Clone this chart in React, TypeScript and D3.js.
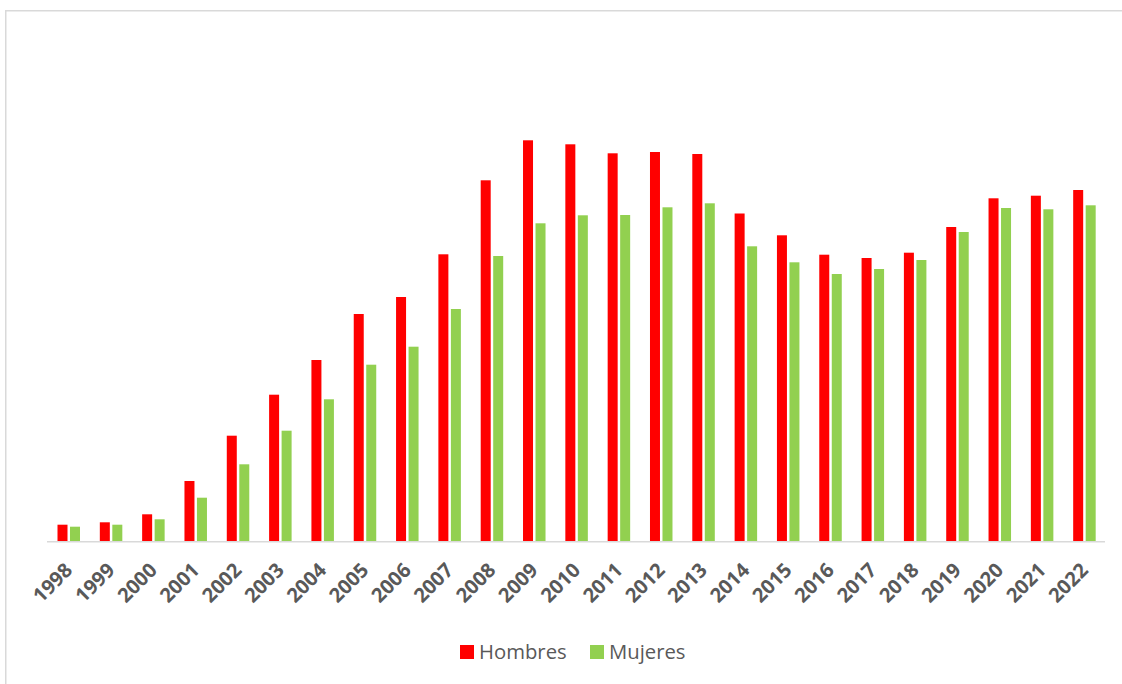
import React from "react";
import * as d3 from "d3";

const years = ["1998","1999","2000","2001","2002","2003","2004","2005","2006","2007","2008","2009","2010","2011","2012","2013","2014","2015","2016","2017","2018","2019","2020","2021","2022"];
const hombres = [16.3, 18.7, 26.7, 60, 105.3, 146.3, 181, 227, 244, 286.7, 360.7, 400.7, 396.7, 387.7, 389, 387, 327.5, 305.7, 286.3, 283, 288.3, 314, 342.7, 345.3, 351];
const mujeres = [14.3, 16.3, 21.7, 43.3, 76.7, 110.3, 141.7, 176.3, 194.3, 232, 285, 317.7, 325.7, 326, 333.7, 337.7, 294.7, 278.7, 267, 272, 281, 309, 333, 331.7, 335.7];
const seriesNames = ["Hombres", "Mujeres"];
const seriesColors = ["#FF0000", "#92D050"];

export default function App() {
  const W = 1122, H = 684;
  const x = d3.scaleBand<string>().domain(years).range([47, 1105]).paddingInner(0).paddingOuter(0);
  const inner = d3.scaleBand<string>().domain(seriesNames).range([10.5, 33]).paddingInner(0.2);
  const y = d3.scaleLinear().domain([0, 450]).range([541, 91]);
  const data = [hombres, mujeres];
  const labelFont = "'Open Sans', 'DejaVu Sans', sans-serif";

  return (
    <div style={{ position: "absolute", left: 0, top: 0 }}>
      <svg width={W} height={H} style={{ display: "block", background: "#fff" }}>
        <rect x={5.75} y={10.75} width={1200} height={800} fill="none" stroke="#D9D9D9" strokeWidth={1.5} />
        {data.map((vals, si) =>
          years.map((yr, i) => (
            <rect
              key={si + "-" + yr}
              x={(x(yr) as number) + (inner(seriesNames[si]) as number)}
              y={y(vals[i])}
              width={inner.bandwidth()}
              height={y(0) - y(vals[i])}
              fill={seriesColors[si]}
            />
          ))
        )}
        <line x1={47} x2={1105} y1={541.75} y2={541.75} stroke="#D9D9D9" strokeWidth={1.5} />
        {years.map((yr) => {
          const cx = (x(yr) as number) + x.bandwidth() / 2 + 5.5;
          const cy = 571.5;
          return (
            <text
              key={"l" + yr}
              x={cx}
              y={cy}
              transform={`rotate(-45 ${cx} ${cy})`}
              textAnchor="end"
              fontFamily={labelFont}
              fontWeight="bold"
              fontSize={20}
              fill="#595959"
            >
              {yr}
            </text>
          );
        })}
        {seriesNames.map((name, si) => {
          const lx = [460, 590][si];
          return (
            <g key={"leg" + name}>
              <rect x={lx} y={645} width={14} height={14} fill={seriesColors[si]} />
              <text x={lx + 19} y={659} fontFamily={labelFont} fontSize={20.3} fill="#595959">
                {name}
              </text>
            </g>
          );
        })}
      </svg>
    </div>
  );
}
